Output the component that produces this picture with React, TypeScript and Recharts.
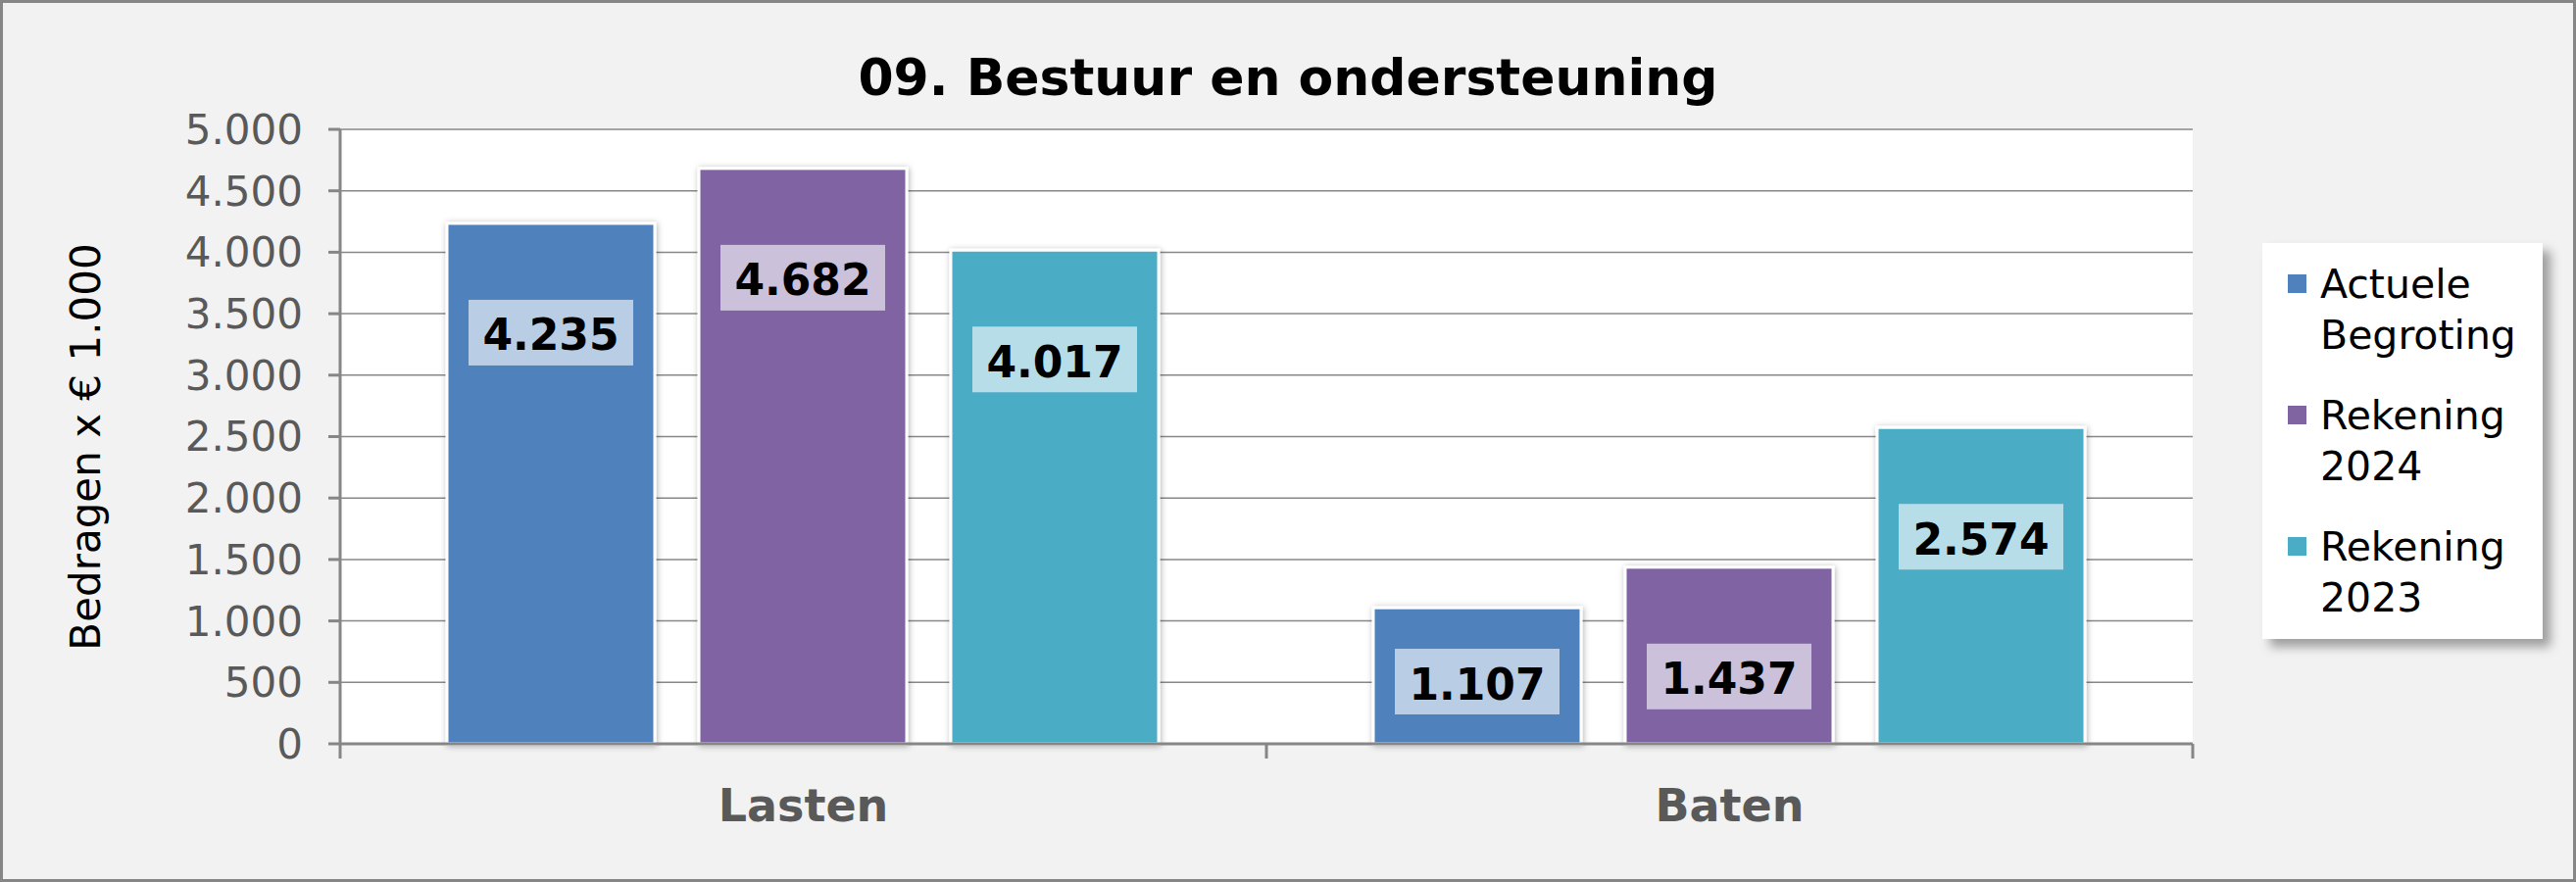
import { BarChart, Bar, XAxis, YAxis, CartesianGrid, Legend, LabelList } from "recharts";

const categories = ["Lasten", "Baten"];
const actueleBegroting = [4235, 1107];
const rekening2024 = [4682, 1437];
const rekening2023 = [4017, 2574];
const seriesNames = ["Actuele Begroting", "Rekening 2024", "Rekening 2023"];
const yTicks = [0, 500, 1000, 1500, 2000, 2500, 3000, 3500, 4000, 4500, 5000];

const W = 2628;
const H = 900;
const PLOT_LEFT = 347;
const PLOT_RIGHT = 2237;
const PLOT_TOP = 132;
const PLOT_BOTTOM = 759;
const Y_AXIS_W = 120;
const X_AXIS_H = 60;

const FONT = "'DejaVu Sans', Verdana, sans-serif";
const AXIS_GREY = "#868686";
const TEXT_GREY = "#595959";

const SERIES = [
  { key: "actueleBegroting", name: seriesNames[0], color: "#4f81bd", labelBg: "#b9cde5" },
  { key: "rekening2024", name: seriesNames[1], color: "#8064a2", labelBg: "#ccc1da" },
  { key: "rekening2023", name: seriesNames[2], color: "#4bacc6", labelBg: "#b7dee8" },
];

const data = categories.map((cat, i) => ({
  category: cat,
  actueleBegroting: actueleBegroting[i],
  rekening2024: rekening2024[i],
  rekening2023: rekening2023[i],
}));

// Dutch thousands separator
const fmt = (v: number) => String(Math.round(v)).replace(/\B(?=(\d{3})+(?!\d))/g, ".");

const BarShape = (props: any) => {
  const { x, y, width, height, fill } = props;
  if (!height || height <= 0) return null;
  return (
    <rect
      x={x}
      y={y}
      width={width}
      height={height}
      fill={fill}
      stroke="#ffffff"
      strokeWidth={3}
      filter="url(#barShadow)"
    />
  );
};

const valueLabel = (boxFill: string) => (props: any) => {
  const { x, y, width, height, value } = props;
  const cx = Number(x) + Number(width) / 2;
  const cy = Math.min(Number(y) + 112, Number(y) + Number(height) - 63);
  return (
    <g>
      <rect x={cx - 84} y={cy - 34} width={168} height={67} fill={boxFill} />
      <text
        x={cx}
        y={cy + 2}
        textAnchor="middle"
        dominantBaseline="central"
        fontFamily={FONT}
        fontWeight="bold"
        fontSize={44}
        fill="#000"
      >
        {fmt(Number(value))}
      </text>
    </g>
  );
};

const XTick = (props: any) => {
  const { x, y, payload, index } = props;
  const band = (PLOT_RIGHT - PLOT_LEFT) / categories.length;
  const left = x - band / 2;
  return (
    <g>
      <line x1={left} x2={left} y1={y} y2={y + 15} stroke={AXIS_GREY} strokeWidth={3} />
      {index === categories.length - 1 && (
        <line x1={x + band / 2} x2={x + band / 2} y1={y} y2={y + 15} stroke={AXIS_GREY} strokeWidth={3} />
      )}
      <text
        x={x}
        y={y + 79}
        textAnchor="middle"
        fontFamily={FONT}
        fontWeight="bold"
        fontSize={46}
        fill={TEXT_GREY}
      >
        {payload.value}
      </text>
    </g>
  );
};

const YLabel = () => (
  <text
    x={87}
    y={456}
    transform="rotate(-90 87 456)"
    textAnchor="middle"
    dominantBaseline="central"
    fontFamily={FONT}
    fontSize={42}
    fill="#000"
  >
    Bedragen x € 1.000
  </text>
);

const LegendBox = () => (
  <div
    style={{
      width: 286,
      height: 404,
      boxSizing: "border-box",
      background: "#ffffff",
      boxShadow: "8px 8px 10px rgba(0,0,0,0.35)",
      paddingTop: 16,
      paddingLeft: 26,
      fontFamily: FONT,
      fontSize: 41,
      lineHeight: "52px",
      color: "#000",
    }}
  >
    {SERIES.map((s) => (
      <div key={s.key} style={{ display: "flex", alignItems: "flex-start", marginBottom: 30 }}>
        <div style={{ width: 19, height: 19, background: s.color, marginTop: 16, marginRight: 14, flexShrink: 0 }} />
        <div>
          {s.name.split(" ").map((w) => (
            <div key={w}>{w}</div>
          ))}
        </div>
      </div>
    ))}
  </div>
);

export default function App() {
  return (
    <div style={{ position: "relative", width: W, height: H, background: "#f2f2f2", overflow: "hidden" }}>
      <style>{"body{margin:0}"}</style>
      <svg width={0} height={0} style={{ position: "absolute" }}>
        <defs>
          <filter id="barShadow" x="-10%" y="-10%" width="120%" height="120%">
            <feDropShadow dx={1} dy={1} stdDeviation={3} floodColor="#000" floodOpacity={0.3} />
          </filter>
        </defs>
      </svg>
      <div
        style={{
          position: "absolute",
          left: 0,
          top: 49,
          width: W,
          textAlign: "center",
          fontFamily: FONT,
          fontWeight: "bold",
          fontSize: 52,
          lineHeight: "60px",
          color: "#000",
          zIndex: 2,
        }}
      >
        09. Bestuur en ondersteuning
      </div>
      <div style={{ position: "absolute", left: 0, top: 0 }}>
        <BarChart
          width={W}
          height={H}
          data={data}
          margin={{
            top: PLOT_TOP,
            left: PLOT_LEFT - Y_AXIS_W,
            right: W - PLOT_RIGHT,
            bottom: H - PLOT_BOTTOM - X_AXIS_H,
          }}
          barCategoryGap={109}
          barGap={45}
        >
          <CartesianGrid vertical={false} stroke="#888888" strokeWidth={1.5} fill="#ffffff" />
          <XAxis
            dataKey="category"
            height={X_AXIS_H}
            axisLine={{ stroke: AXIS_GREY, strokeWidth: 3 }}
            tickLine={false}
            tickSize={0}
            tickMargin={0}
            tick={<XTick />}
            interval={0}
          />
          <YAxis
            width={Y_AXIS_W}
            domain={[0, 5000]}
            ticks={yTicks}
            interval={0}
            tickFormatter={fmt}
            axisLine={{ stroke: AXIS_GREY, strokeWidth: 3 }}
            tickLine={{ stroke: AXIS_GREY, strokeWidth: 3 }}
            tickSize={12}
            tickMargin={26}
            tick={{ fill: TEXT_GREY, fontSize: 42, fontFamily: FONT }}
            label={<YLabel />}
          />
          <Legend
            layout="vertical"
            align="center"
            verticalAlign="middle"
            content={<LegendBox />}
            wrapperStyle={{ left: 2308, top: 248, width: 286, height: 404 }}
          />
          {SERIES.map((s) => (
            <Bar
              key={s.key}
              dataKey={s.key}
              name={s.name}
              fill={s.color}
              shape={<BarShape />}
              isAnimationActive={false}
            >
              <LabelList dataKey={s.key} content={valueLabel(s.labelBg)} />
            </Bar>
          ))}
        </BarChart>
      </div>
      <div
        style={{
          position: "absolute",
          inset: 0,
          border: `3px solid ${AXIS_GREY}`,
          pointerEvents: "none",
          zIndex: 3,
        }}
      />
    </div>
  );
}
